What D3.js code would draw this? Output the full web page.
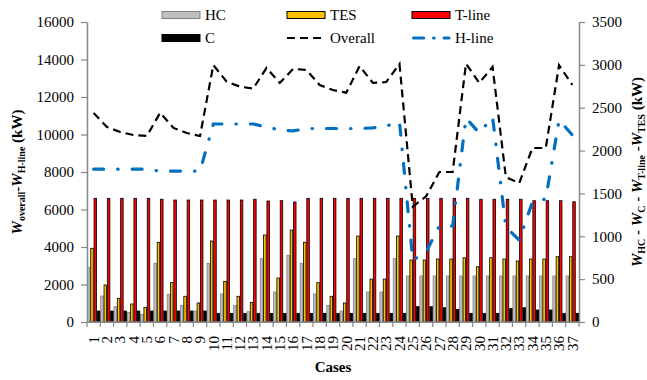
<!DOCTYPE html>
<html>
<head>
<meta charset="utf-8">
<script src="https://cdn.jsdelivr.net/npm/d3@7"></script>
<style>
  body { margin: 0; background: #fff; }
</style>
</head>
<body>
<svg id="chart" width="647" height="380"></svg>
<script>
/* categories */
const cases = [1, 2, 3, 4, 5, 6, 7, 8, 9, 10, 11, 12, 13, 14, 15, 16, 17, 18, 19, 20,
  21, 22, 23, 24, 25, 26, 27, 28, 29, 30, 31, 32, 33, 34, 35, 36, 37];

/* bars, right axis (kW) */
const hc = [634, 303, 179, 113, 89, 684, 323, 194, 128, 684, 327, 194, 120, 739, 350, 778, 684, 327, 194, 128,
  739, 350, 350, 739, 537, 537, 537, 537, 537, 537, 537, 537, 537, 537, 537, 537, 537];
const tes = [860, 432, 276, 210, 171, 930, 459, 300, 222, 945, 474, 300, 229, 1015, 513, 1073, 930, 459, 300, 222,
  1003, 501, 501, 1003, 723, 723, 735, 735, 750, 645, 750, 735, 712, 735, 735, 762, 762];
const tline = [1443, 1443, 1443, 1443, 1443, 1432, 1423, 1423, 1423, 1423, 1423, 1423, 1432, 1412, 1415, 1400, 1443, 1443, 1443, 1443,
  1443, 1443, 1443, 1443, 1443, 1443, 1443, 1443, 1443, 1432, 1432, 1432, 1432, 1415, 1415, 1415, 1403];
const c = [128, 128, 128, 128, 128, 128, 128, 128, 128, 101, 101, 101, 101, 101, 101, 101, 101, 101, 101, 101,
  101, 101, 101, 101, 179, 179, 167, 148, 101, 101, 101, 156, 167, 140, 140, 101, 101];

/* lines, left axis (kW) */
const overall = [11150, 10400, 10130, 9970, 9920, 11160, 10350, 10080, 9920, 13700, 12820, 12550, 12450, 13550, 12750, 13500, 13440, 12640, 12370, 12230,
  13650, 12750, 12800, 13760, 6150, 6700, 8000, 8000, 13780, 12750, 13600, 7730, 7400, 9280, 9280, 13700, 12640];
const hline = [8150, 8150, 8150, 8150, 8150, 8050, 8050, 8050, 8050, 10560, 10560, 10560, 10560, 10400, 10240, 10190, 10320, 10320, 10320, 10320,
  10320, 10350, 10450, 10670, 3300, 3730, 5120, 5120, 10880, 10080, 10930, 5070, 4370, 6400, 6560, 10770, 9970];

/* ticks */
const leftTicks = [0, 2000, 4000, 6000, 8000, 10000, 12000, 14000, 16000];
const rightTicks = [0, 500, 1000, 1500, 2000, 2500, 3000, 3500];

const series = [
  { name: 'HC', values: hc, fill: '#c0c0c0', stroke: '#7f7f7f' },
  { name: 'TES', values: tes, fill: '#ffc000', stroke: '#000' },
  { name: 'T-line', values: tline, fill: '#ff0000', stroke: '#000' },
  { name: 'C', values: c, fill: '#000', stroke: '#000' }
];

const FONT = 'Liberation Serif';
const svg = d3.select('#chart');
const axisColor = '#868686';

const x = d3.scaleBand().domain(cases).range([87, 579]).padding(0);
const xs = d3.scaleBand().domain(series.map(s => s.name)).range([0, x.bandwidth()]).padding(0);
const yL = d3.scaleLinear().domain([0, 16000]).range([322, 22]);
const yR = d3.scaleLinear().domain([0, 3500]).range([322, 22]);

// bars
series.forEach(s => {
  svg.append('g').selectAll('rect')
    .data(cases)
    .join('rect')
    .attr('x', (d, i) => x(d) + xs(s.name) + 0.4)
    .attr('y', (d, i) => yR(s.values[i]))
    .attr('width', xs.bandwidth() - 0.8)
    .attr('height', (d, i) => yR(0) - yR(s.values[i]))
    .attr('fill', s.fill)
    .attr('stroke', s.stroke)
    .attr('stroke-width', 0.8);
});

// lines
const cx = d => x(d) + x.bandwidth() / 2;

svg.append('path')
  .datum(overall)
  .attr('fill', 'none')
  .attr('stroke', '#000')
  .attr('stroke-width', 2.2)
  .attr('stroke-dasharray', '8,5')
  .attr('d', d3.line().x((v, i) => cx(cases[i])).y(v => yL(v)));

svg.append('path')
  .datum(hline)
  .attr('fill', 'none')
  .attr('stroke', '#0070c0')
  .attr('stroke-width', 3.2)
  .attr('stroke-linecap', 'round')
  .attr('stroke-dasharray', '10,14,0.5,14')
  .attr('d', d3.line().x((v, i) => cx(cases[i])).y(v => yL(v)));

// axes
const styleAxis = g => {
  g.attr('font-family', FONT);
  g.select('.domain').attr('stroke', axisColor).attr('stroke-width', 1.5);
  g.selectAll('.tick line').attr('stroke', axisColor).attr('stroke-width', 1.2);
  g.selectAll('.tick text').attr('font-size', 15).attr('fill', '#000');
};

svg.append('g')
  .attr('transform', 'translate(87,0)')
  .call(d3.axisLeft(yL).tickValues(leftTicks).tickSize(6).tickSizeOuter(0).tickPadding(7).tickFormat(d3.format('d')))
  .call(styleAxis);

svg.append('g')
  .attr('transform', 'translate(579,0)')
  .call(d3.axisRight(yR).tickValues(rightTicks).tickSize(6).tickSizeOuter(0).tickPadding(7).tickFormat(d3.format('d')))
  .call(styleAxis);

// x axis: baseline, ticks between cases, rotated labels
const xg = svg.append('g');
xg.append('line')
  .attr('x1', 87).attr('x2', 579).attr('y1', 322).attr('y2', 322)
  .attr('stroke', axisColor).attr('stroke-width', 1.5);
xg.selectAll('line.tk')
  .data(cases.map(d => x(d)).concat([x.range()[1]]))
  .join('line')
  .attr('class', 'tk')
  .attr('x1', d => d).attr('x2', d => d)
  .attr('y1', 322).attr('y2', 327)
  .attr('stroke', axisColor).attr('stroke-width', 1.2);
xg.selectAll('text')
  .data(cases)
  .join('text')
  .attr('transform', d => `translate(${cx(d)},336) rotate(-90)`)
  .attr('text-anchor', 'end')
  .attr('dy', '0.35em')
  .attr('font-size', 15)
  .text(d => d);

svg.append('text')
  .attr('x', 333).attr('y', 372)
  .attr('text-anchor', 'middle')
  .attr('font-size', 15).attr('font-weight', 'bold')
  .text('Cases');

// axis titles
const title = (tx, ty, parts) => {
  const t = svg.append('text')
    .attr('transform', `translate(${tx},${ty}) rotate(-90)`)
    .attr('text-anchor', 'middle')
    .attr('font-weight', 'bold')
    .attr('font-size', 15);
  let shift = 0;
  parts.forEach(p => {
    const dy = (p.sub ? 3 : 0) - shift;
    shift = p.sub ? 3 : 0;
    t.append('tspan')
      .attr('dy', dy)
      .attr('font-size', p.sub ? 10 : 15)
      .attr('font-style', p.it ? 'italic' : 'normal')
      .text(p.s);
  });
};

title(22, 172, [
  { s: 'W', it: true }, { s: 'overall', sub: true }, { s: '-' },
  { s: 'W', it: true }, { s: 'H-line', sub: true }, { s: ' (kW)' }
]);

title(642, 172, [
  { s: 'W', it: true }, { s: 'HC', sub: true }, { s: ' - ' },
  { s: 'W', it: true }, { s: 'C', sub: true }, { s: ' - ' },
  { s: 'W', it: true }, { s: 'T-line', sub: true }, { s: ' -' },
  { s: 'W', it: true }, { s: 'TES', sub: true }, { s: ' (kW)' }
]);

// legend
const legend = [
  { name: 'HC', type: 'rect', fill: '#c0c0c0', stroke: '#7f7f7f', lx: 162, ly: 15 },
  { name: 'TES', type: 'rect', fill: '#ffc000', stroke: '#000', lx: 287, ly: 15 },
  { name: 'T-line', type: 'rect', fill: '#ff0000', stroke: '#000', lx: 412, ly: 15 },
  { name: 'C', type: 'rect', fill: '#000', stroke: '#000', lx: 162, ly: 38 },
  { name: 'Overall', type: 'dash', lx: 287, ly: 38 },
  { name: 'H-line', type: 'dashdot', lx: 412, ly: 38 }
];

legend.forEach(l => {
  if (l.type === 'rect') {
    svg.append('rect')
      .attr('x', l.lx).attr('y', l.ly - 3.5)
      .attr('width', 38).attr('height', 7)
      .attr('fill', l.fill).attr('stroke', l.stroke).attr('stroke-width', 1);
  } else if (l.type === 'dash') {
    svg.append('line')
      .attr('x1', l.lx).attr('x2', l.lx + 38).attr('y1', l.ly).attr('y2', l.ly)
      .attr('stroke', '#000').attr('stroke-width', 2.2).attr('stroke-dasharray', '8,5');
  } else {
    svg.append('line')
      .attr('x1', l.lx + 1.6).attr('x2', l.lx + 37).attr('y1', l.ly).attr('y2', l.ly)
      .attr('stroke', '#0070c0').attr('stroke-width', 3.2).attr('stroke-linecap', 'round')
      .attr('stroke-dasharray', '10,10,0.5,10');
  }
  svg.append('text')
    .attr('x', l.lx + 43).attr('y', l.ly + 5)
    .attr('font-size', 15)
    .text(l.name);
});

// serif everywhere, like the original
svg.selectAll('text').attr('font-family', FONT);
</script>
</body>
</html>
